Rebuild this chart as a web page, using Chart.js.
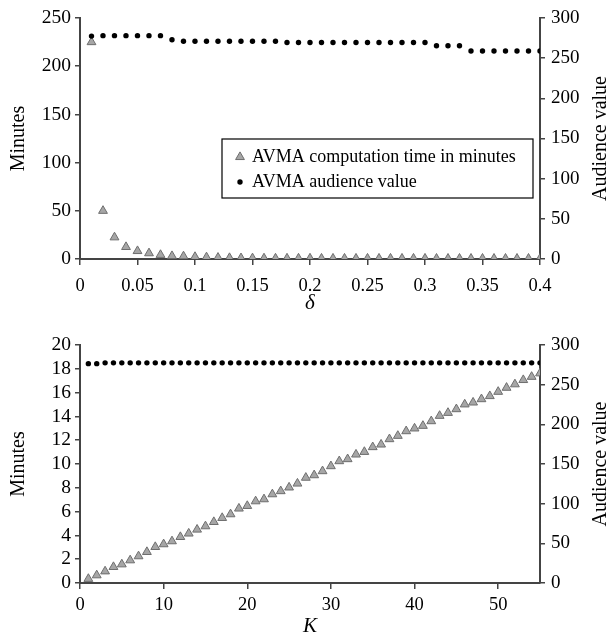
<!DOCTYPE html>
<html>
<head>
<meta charset="utf-8">
<script src="https://cdn.jsdelivr.net/npm/chart.js@4"></script>
<style>
  html, body { margin: 0; padding: 0; background: #fff; }
  canvas { display: block; }
</style>
</head>
<body>
<canvas id="deltaChart" width="610" height="320"></canvas>
<canvas id="kChart" width="610" height="320"></canvas>
<script>
// ---- data: top panel (delta) ----
const deltaValues = [0.01, 0.02, 0.03, 0.04, 0.05, 0.06, 0.07, 0.08, 0.09, 0.10,
                     0.11, 0.12, 0.13, 0.14, 0.15, 0.16, 0.17, 0.18, 0.19, 0.20,
                     0.21, 0.22, 0.23, 0.24, 0.25, 0.26, 0.27, 0.28, 0.29, 0.30,
                     0.31, 0.32, 0.33, 0.34, 0.35, 0.36, 0.37, 0.38, 0.39, 0.40];
const minutesDelta = [225, 50, 22.5, 12.5, 8.3, 6, 4.3, 3.1, 2.8, 2.2,
                      1.8, 1.4, 1.1, 0.9, 0.8, 0.7, 0.6, 0.6, 0.6, 0.6,
                      0.5, 0.5, 0.5, 0.5, 0.5, 0.5, 0.5, 0.5, 0.5, 0.5,
                      0.4, 0.4, 0.4, 0.4, 0.4, 0.4, 0.4, 0.4, 0.4, 0.4];
const audienceDelta = [277.5, 278, 278, 278, 278, 278, 278, 273, 271, 271,
                       271, 271, 271, 271, 271, 271, 271, 269.5, 269.5, 269.5,
                       269.5, 269.5, 269.5, 269.5, 269.5, 269.5, 269.5, 269.5, 269.5, 269.5,
                       265.5, 265.5, 265.5, 259, 259, 259, 259, 259, 259, 259];
const deltaTicks = [0, 0.05, 0.1, 0.15, 0.2, 0.25, 0.3, 0.35, 0.4];

// ---- data: bottom panel (K) ----
const kValues = [1, 2, 3, 4, 5, 6, 7, 8, 9, 10, 11, 12, 13, 14, 15, 16, 17, 18, 19, 20,
                 21, 22, 23, 24, 25, 26, 27, 28, 29, 30, 31, 32, 33, 34, 35, 36, 37, 38, 39, 40,
                 41, 42, 43, 44, 45, 46, 47, 48, 49, 50, 51, 52, 53, 54, 55];
const minutesK = [0.35, 0.65, 0.98, 1.35, 1.57, 1.91, 2.25, 2.61, 3.03, 3.26,
                  3.51, 3.87, 4.16, 4.49, 4.77, 5.13, 5.47, 5.78, 6.26, 6.48,
                  6.87, 7.04, 7.46, 7.72, 8.03, 8.36, 8.85, 9.06, 9.4, 9.82,
                  10.24, 10.41, 10.8, 11.02, 11.42, 11.64, 12.09, 12.37, 12.76, 12.99,
                  13.21, 13.6, 14.05, 14.3, 14.61, 15.01, 15.17, 15.45, 15.71, 16.07,
                  16.41, 16.7, 17.06, 17.33, 17.62];
const audienceK = [276.5, 276.5, 277.5, 277.5, 277.5, 277.5, 277.5, 277.5, 277.5, 277.5,
                   277.5, 277.5, 277.5, 277.5, 277.5, 277.5, 277.5, 277.5, 277.5, 277.5,
                   277.5, 277.5, 277.5, 277.5, 277.5, 277.5, 277.5, 277.5, 277.5, 277.5,
                   277.5, 277.5, 277.5, 277.5, 277.5, 277.5, 277.5, 277.5, 277.5, 277.5,
                   277.5, 277.5, 277.5, 277.5, 277.5, 277.5, 277.5, 277.5, 277.5, 277.5,
                   277.5, 277.5, 277.5, 277.5, 277.5];
const kTicks = [0, 10, 20, 30, 40, 50];

const legendLabels = ['AVMA computation time in minutes', 'AVMA audience value'];

// ---- styles ----
const SERIF = "'Liberation Serif', 'DejaVu Serif', serif";
const AXIS_COLOR = '#444';
const TRI_FILL = '#a6a6a6';
const TRI_EDGE = '#6e6e6e';
const TRI_R = 5.1;

function toPoints(xs, ys) {
    return xs.map((x, i) => ({ x: x, y: ys[i] }));
}

function triangleSet(xs, ys) {
    return {
        data: toPoints(xs, ys),
        yAxisID: 'yMin',
        pointStyle: 'triangle',
        pointRadius: TRI_R,
        pointBackgroundColor: TRI_FILL,
        pointBorderColor: TRI_EDGE,
        pointBorderWidth: 1,
        showLine: false,
        order: 1
    };
}

function dotSet(xs, ys) {
    return {
        data: toPoints(xs, ys),
        yAxisID: 'yAud',
        pointStyle: 'circle',
        pointRadius: 2.7,
        pointBackgroundColor: '#000',
        pointBorderWidth: 0,
        showLine: false,
        order: 0
    };
}

function axisGrid(len) {
    return { drawOnChartArea: false, drawTicks: true, tickLength: len, color: AXIS_COLOR, lineWidth: 1.5 };
}

function tickFont(size) {
    return { family: SERIF, size: size };
}

function buildScales(o) {
    return {
        x: {
            type: 'linear',
            position: 'bottom',
            min: 0,
            max: o.xMax,
            // keep only the listed tick values (drops the extra one at max)
            afterBuildTicks: s => {
                s.ticks = o.xTicks.map(v => ({ value: v }));
            },
            ticks: {
                autoSkip: false,
                maxRotation: 0,
                padding: o.xPad,
                color: '#000',
                font: tickFont(18.5),
                callback: v => String(parseFloat(Number(v).toFixed(2)))
            },
            grid: axisGrid(6),
            border: { color: AXIS_COLOR, width: 2 },
            title: { display: true, text: o.xTitle, color: '#000', padding: { top: 0, bottom: o.xTitlePad },
                     font: { family: SERIF, size: 21, style: 'italic' } },
            afterFit: s => { s.height = o.xHeight; }
        },
        yMin: {
            type: 'linear',
            position: 'left',
            min: 0,
            max: o.minMax,
            ticks: { stepSize: o.minStep, autoSkip: false, padding: 4, color: '#000', font: tickFont(19.5) },
            grid: axisGrid(5),
            border: { color: AXIS_COLOR, width: 2 },
            title: { display: true, text: 'Minutes', color: '#000', padding: { top: 6.5, bottom: 0 },
                     font: { family: SERIF, size: 20 } },
            afterFit: s => { s.width = 80; }
        },
        yAud: {
            type: 'linear',
            position: 'right',
            min: 0,
            max: 300,
            ticks: { stepSize: 50, autoSkip: false, padding: 6, color: '#000', font: tickFont(19) },
            grid: axisGrid(5),
            border: { color: AXIS_COLOR, width: 2 },
            afterFit: s => { s.width = 70; }
        }
    };
}

// right-hand title, reading bottom to top like the left one
const rightTitlePlugin = {
    id: 'rightTitle',
    afterDraw(chart, args, opts) {
        const { ctx, chartArea } = chart;
        ctx.save();
        ctx.translate(opts.x, (chartArea.top + chartArea.bottom) / 2);
        ctx.rotate(-Math.PI / 2);
        ctx.font = '20px ' + SERIF;
        ctx.fillStyle = '#000';
        ctx.textAlign = 'center';
        ctx.textBaseline = 'middle';
        ctx.fillText(opts.text, 0, 0);
        ctx.restore();
    }
};

// boxed legend inside the top plot
const boxLegendPlugin = {
    id: 'boxLegend',
    afterDraw(chart, args, opts) {
        if (!opts.show) return;
        const ctx = chart.ctx;
        ctx.save();
        ctx.fillStyle = '#fff';
        ctx.fillRect(opts.left, opts.top, opts.width, opts.height);
        ctx.strokeStyle = '#000';
        ctx.lineWidth = 1.2;
        ctx.strokeRect(opts.left, opts.top, opts.width, opts.height);

        const mx = opts.left + 18;
        const rows = [opts.top + 18, opts.top + 43];
        // triangle marker
        const s = TRI_R * Math.sin(2 * Math.PI / 3);
        ctx.beginPath();
        ctx.moveTo(mx, rows[0] - TRI_R);
        ctx.lineTo(mx + s, rows[0] + TRI_R / 2);
        ctx.lineTo(mx - s, rows[0] + TRI_R / 2);
        ctx.closePath();
        ctx.fillStyle = TRI_FILL;
        ctx.fill();
        ctx.strokeStyle = TRI_EDGE;
        ctx.lineWidth = 1;
        ctx.stroke();
        // dot marker
        ctx.beginPath();
        ctx.arc(mx, rows[1], 2.7, 0, Math.PI * 2);
        ctx.fillStyle = '#000';
        ctx.fill();

        ctx.font = '18px ' + SERIF;
        ctx.fillStyle = '#000';
        ctx.textAlign = 'left';
        ctx.textBaseline = 'middle';
        ctx.fillText(legendLabels[0], opts.left + 30, rows[0]);
        ctx.fillText(legendLabels[1], opts.left + 30, rows[1]);
        ctx.restore();
    }
};

function makeChart(id, cfg) {
    return new Chart(document.getElementById(id), {
        type: 'scatter',
        data: { datasets: [triangleSet(cfg.xs, cfg.minutes), dotSet(cfg.xs, cfg.audience)] },
        options: {
            responsive: false,
            animation: false,
            layout: { padding: { top: cfg.padTop, right: 0, bottom: 0, left: 0 } },
            scales: buildScales(cfg.scale),
            plugins: {
                legend: { display: false },
                tooltip: { enabled: false },
                rightTitle: { text: 'Audience value', x: 601 },
                boxLegend: cfg.legend
            }
        },
        plugins: [rightTitlePlugin, boxLegendPlugin]
    });
}

makeChart('deltaChart', {
    xs: deltaValues,
    minutes: minutesDelta,
    audience: audienceDelta,
    padTop: 18,
    scale: { xMax: 0.4, xTicks: deltaTicks, xPad: 10, xTitle: 'δ', xTitlePad: 4, xHeight: 61,
             minMax: 250, minStep: 50 },
    legend: { show: true, left: 222, top: 139, width: 311, height: 59 }
});

makeChart('kChart', {
    xs: kValues,
    minutes: minutesK,
    audience: audienceK,
    padTop: 25,
    scale: { xMax: 55, xTicks: kTicks, xPad: 5, xTitle: 'K', xTitlePad: 1, xHeight: 57,
             minMax: 20, minStep: 2 },
    legend: { show: false }
});
</script>
</body>
</html>
